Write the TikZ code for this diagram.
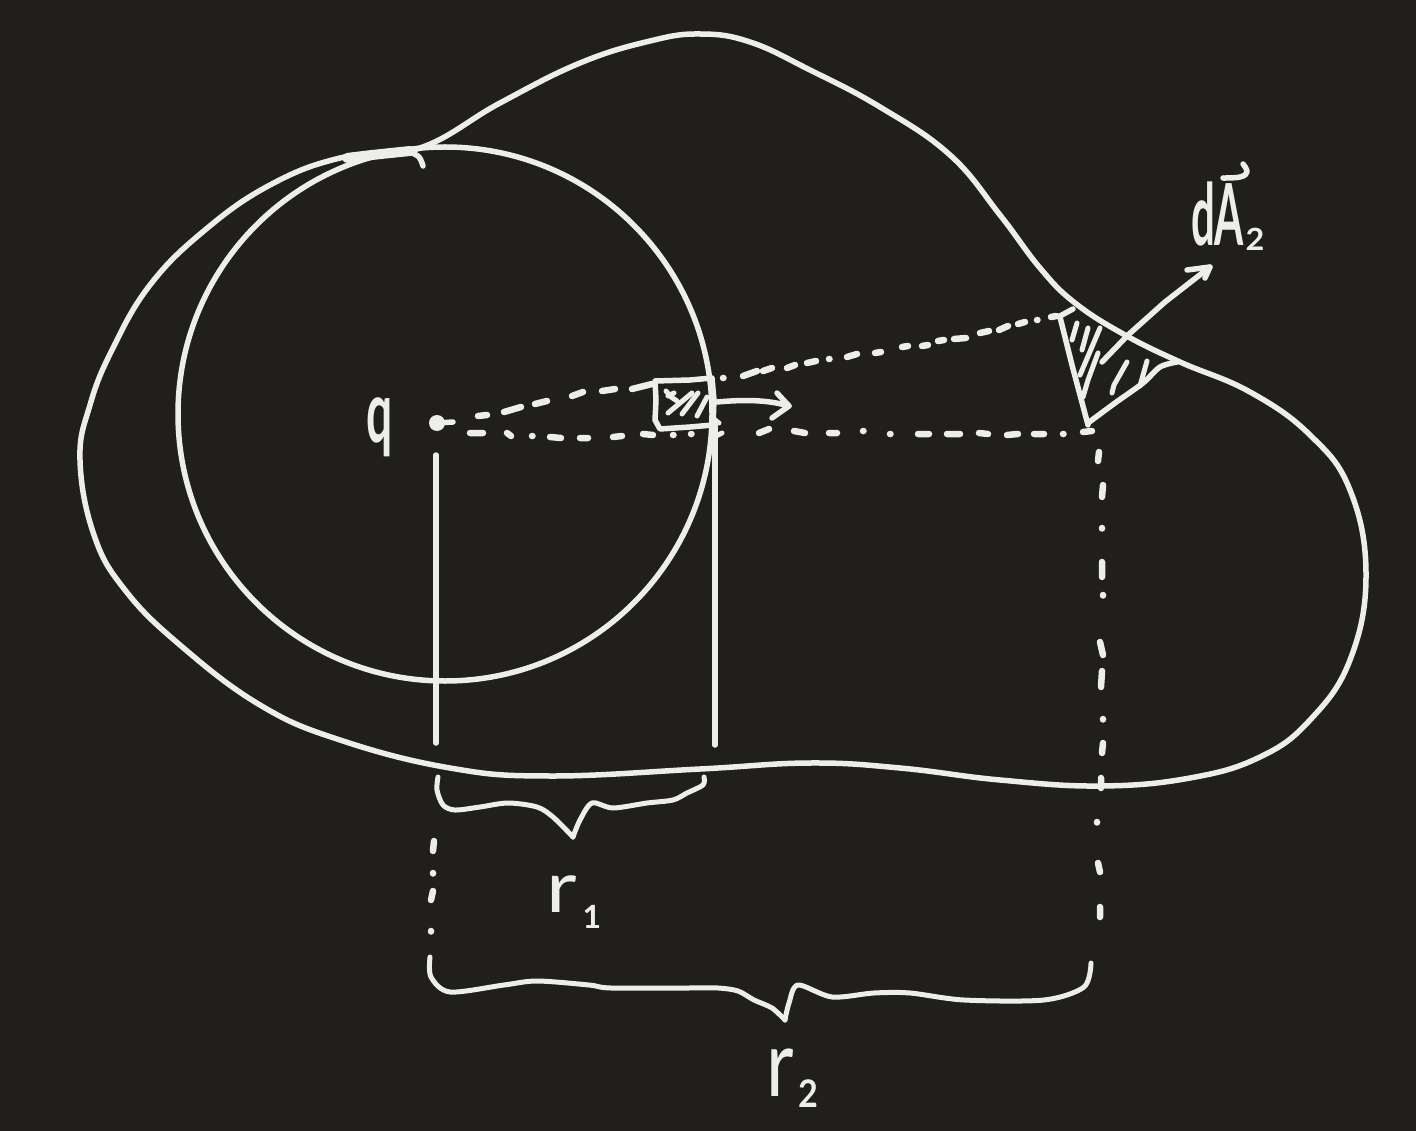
\documentclass[tikz,border=0pt]{standalone}
\usepackage{graphicx}
\usepackage{fontspec}
\setmainfont{Lato}
\definecolor{board}{HTML}{201F1E}
\definecolor{chalk}{HTML}{EDEDEB}
\tikzset{
  pen/.style={draw=chalk,line width=5.5pt,line cap=round,line join=round},
  thinpen/.style={pen,line width=5pt},
  dashpen/.style={pen,line width=6.5pt},
  hand/.style={text=chalk,inner sep=0pt,outer sep=0pt,font=\bfseries\fontsize{84}{84}\selectfont},
  handlight/.style={hand,font=\fontsize{84}{84}\selectfont}
}
\begin{document}
\begin{tikzpicture}[x=1pt,y=-1pt]
\fill[board] (0,0) rectangle (1416,1131);
\useasboundingbox (0,0) rectangle (1416,1131);
% closed surface
\draw[pen] plot[smooth cycle,tension=0.7] coordinates {
 (420,148) (500,103) (580,63) (650,41) (700,34) (750,42) (810,70) (880,107) (950,155) (1000,215)
 (1040,268) (1075,303) (1125,335) (1180,362) (1250,392) (1310,435) (1350,490) (1366,575) (1350,660)
 (1310,720) (1260,757) (1190,778) (1100,786) (1000,780) (900,768) (810,763) (700,769) (550,776)
 (450,768) (340,740) (260,705) (180,645) (125,590) (94,535) (80,460) (90,405) (112,350) (150,285) (205,230)
 (270,185) (340,158)};
% inner sphere
\node[circle,draw=chalk,line width=5.5pt,minimum size=534pt,inner sep=0pt] (sphere) at (445,414) {};
% overdrawn join at the top
\draw[pen,line width=10pt] plot[smooth,tension=0.6] coordinates {(347,158) (372,155) (410,151)};
\draw[pen] plot[smooth,tension=0.6] coordinates {(410,152) (419,157) (423,166)};
% charge
\node[circle,fill=chalk,minimum size=16pt,inner sep=0pt] (charge) at (437,423) {};
\coordinate (chargetail) at (453,422);
\draw[pen] (charge) -- (chargetail);
\node[hand] (qlabel) at (380,427) {\scalebox{.55}[1.02]{q}};
% radius verticals
\coordinate (r1a) at (436,455); \coordinate (r1b) at (436,743);
\coordinate (r2a) at (715,420); \coordinate (r2b) at (715,745);
\draw[pen] (r1a) -- (r1b);
\draw[pen] (r2a) -- (r2b);
% small patch dA1
\draw[pen] (655,381) -- (690,380) -- (712,378) -- (714,400) -- (713,425) -- (690,427) -- (660,429) -- (655,420) -- (656,400) -- cycle;
\draw[thinpen] (666,391) -- (671,397) -- (677,401);
\draw[thinpen] (668,396) -- (674,393);
\draw[thinpen] (668,413) -- (692,393);
\draw[thinpen] (682,414) -- (698,393);
\draw[thinpen] (697,416) -- (707,397);
\draw[thinpen] (716,421) -- (719,423);
\draw[thinpen] (716,436) -- (722,433);
% arrow from the small patch
\coordinate (a1s) at (717,402); \coordinate (a1t) at (789,406);
\draw[pen] (a1s) .. controls (740,400) and (765,399) .. (a1t);
\draw[pen] (777,393) -- (a1t) -- (772,418);
% upper dashed ray
\draw[dashpen]
 (478,416)--(487,415) (504,412)--(521,407) (535,404)--(547,401) (572,396)--(583,392) (602,391)--(615,389) (632,389)--(652,384)
 (723,378)--(723.5,378) (743,376)--(757,371) (763,371)--(772,368) (787,368)--(795,365) (807,363)--(816,361)
 (829,359)--(829.5,359) (847,357)--(857,354) (875,353)--(881,352) (902,347)--(908,346) (922,346)--(928,345)
 (938,341)--(944,340) (954,339)--(966,338) (980,333)--(989,331) (999,330)--(1008,326) (1018,324)--(1025,322)
 (1037,320)--(1037.5,320) (1051,317)--(1056,316);
% lower dashed ray
\draw[dashpen]
 (470,433)--(483,433) (507,433)--(511,436) (532,436)--(532.5,436) (550,437)--(561,438) (580,438)--(588,438)
 (613,437)--(622,436) (643,434)--(653,435) (673,435)--(673.5,435) (691,434)--(691.5,434)
 (759,433)--(769,429) (794,431)--(805,433) (829,433)--(837,433) (863,431)--(863.5,431) (890,434)--(890.5,434)
 (918,434)--(929,434) (947,434)--(960,434) (979,433)--(988,434) (1007,435)--(1018,434) (1034,434)--(1044,434)
 (1063,434)--(1063.5,434) (1083,432)--(1092,431);
% large patch dA2
\draw[pen] (1051,317) -- (1060,316) -- (1073,309);
\draw[pen] (1060,317) -- (1072,365) -- (1088,425);
\draw[pen] plot[smooth,tension=0.5] coordinates {(1088,423) (1115,403) (1143,383) (1160,367) (1177,362)};
\draw[thinpen] (1072,340) -- (1077,323);
\draw[thinpen] (1082,350) -- (1088,328);
\draw[thinpen] (1080,375) -- (1100,328);
\draw[thinpen] (1083,397) -- (1088,380) -- (1098,353);
\draw[thinpen] (1112,393) -- (1114,385) -- (1127,362);
\draw[thinpen] (1140,386) -- (1147,361);
% normal vector
\coordinate (a2s) at (1102,362); \coordinate (a2t) at (1210,267);
\draw[pen] (a2s) -- (1128,335) -- (1165,302) -- (a2t);
\draw[pen] (1187,270) -- (a2t) -- (1205,278);
\node[hand,anchor=south west] (dalabel) at (1191,246) {\scalebox{.5}[1.02]{dA}};
\node[hand,font=\bfseries\fontsize{36}{36}\selectfont] (dasub) at (1255,239) {\scalebox{.9}[.85]{2}};
\draw[pen] plot[smooth,tension=0.7] coordinates {(1223,178) (1240,177) (1247,172) (1243,164)};
% dropping dashes
\draw[dashpen]
 (1099,452)--(1098,461) (1103,485)--(1102,497) (1102,528)--(1102,528.5) (1102,562)--(1102,577) (1103,595)--(1103,595.5)
 (1100,642)--(1103,655) (1102,671)--(1101,687) (1103,719)--(1103,719.5) (1103,743)--(1102,753) (1101,778)--(1101,788)
 (1097,822)--(1097,822.5) (1098,863)--(1100,872) (1100,907)--(1100,917);
\draw[dashpen]
 (434,841)--(433,851) (433,873)--(433,873.5) (433,891)--(431,900) (431,931)--(431,931.5);
% brace r1
\coordinate (b1) at (573,837);
\draw[thinpen] plot[smooth,tension=0.5] coordinates {(438,777) (437,790) (443,805) (455,810) (480,807) (508,803) (537,807) (553,817) (b1)};
\draw[thinpen] plot[smooth,tension=0.5] coordinates {(b1) (580,820) (592,803) (613,808) (647,803) (673,800) (687,793) (703,785) (704,777)};
\node[handlight,anchor=south west] (r1label) at (546,912) {\scalebox{1}[.85]{r}};
\node[hand,font=\bfseries\fontsize{32}{32}\selectfont] (r1sub) at (592,917) {1};
% brace r2
\coordinate (b2) at (785,1020);
\draw[thinpen] plot[smooth,tension=0.5] coordinates {(430,957) (431,977) (450,992) (504,985) (537,981) (589,985) (611,988) (687,988) (718,988) (738,991) (754,1000) (772,1008) (b2)};
\draw[thinpen] plot[smooth,tension=0.5] coordinates {(b2) (789,1003) (798,985) (832,997) (874,993) (910,993) (964,1000) (1044,1000) (1084,987) (1091,963)};
\node[handlight,anchor=south west] (r2label) at (766,1096) {\scalebox{.9}[1.1]{r}};
\node[hand,font=\bfseries\fontsize{38}{38}\selectfont] (r2sub) at (808,1094) {\scalebox{.9}[1]{2}};
\end{tikzpicture}
\end{document}
